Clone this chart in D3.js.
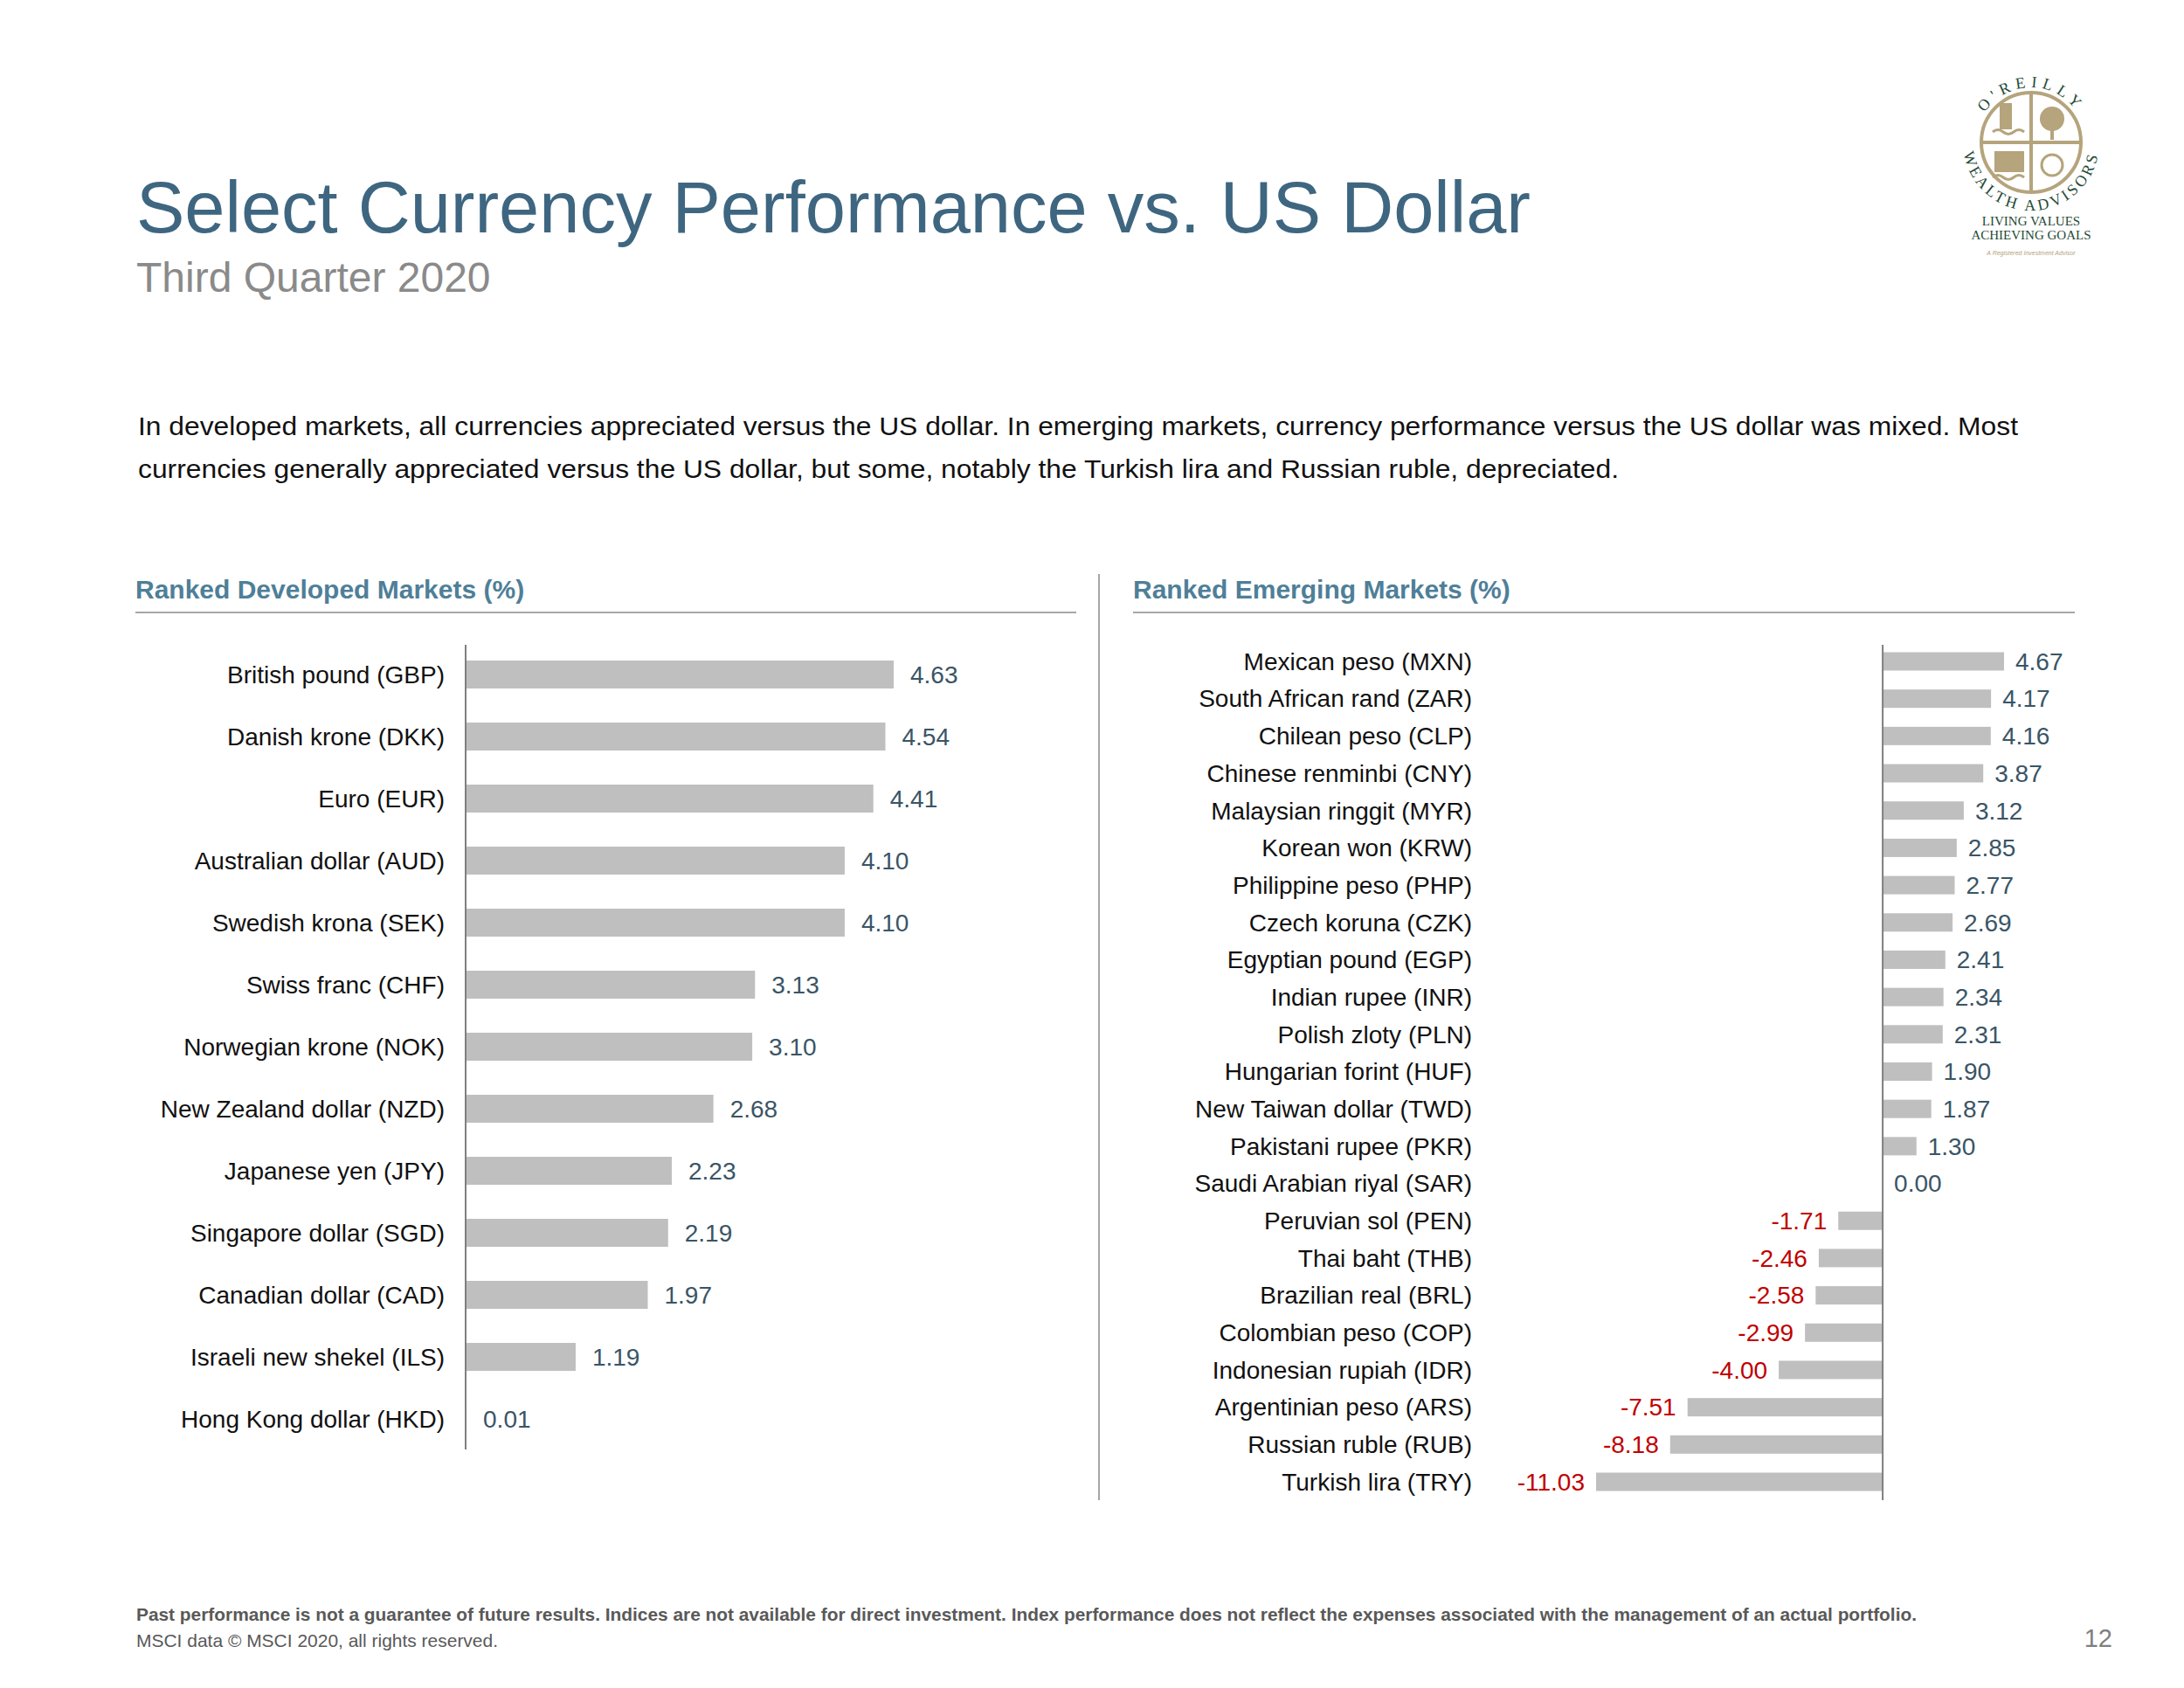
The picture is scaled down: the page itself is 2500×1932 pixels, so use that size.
<!DOCTYPE html>
<html><head><meta charset="utf-8">
<script src="https://cdn.jsdelivr.net/npm/d3@7"></script>
<style>body{margin:0;background:#fff}svg{display:block}</style>
</head><body>
<script>
const devCats=["British pound (GBP)","Danish krone (DKK)","Euro (EUR)","Australian dollar (AUD)","Swedish krona (SEK)","Swiss franc (CHF)","Norwegian krone (NOK)","New Zealand dollar (NZD)","Japanese yen (JPY)","Singapore dollar (SGD)","Canadian dollar (CAD)","Israeli new shekel (ILS)","Hong Kong dollar (HKD)"];
const devVals=[4.63,4.54,4.41,4.10,4.10,3.13,3.10,2.68,2.23,2.19,1.97,1.19,0.01];
const emCats=["Mexican peso (MXN)","South African rand (ZAR)","Chilean peso (CLP)","Chinese renminbi (CNY)","Malaysian ringgit (MYR)","Korean won (KRW)","Philippine peso (PHP)","Czech koruna (CZK)","Egyptian pound (EGP)","Indian rupee (INR)","Polish zloty (PLN)","Hungarian forint (HUF)","New Taiwan dollar (TWD)","Pakistani rupee (PKR)","Saudi Arabian riyal (SAR)","Peruvian sol (PEN)","Thai baht (THB)","Brazilian real (BRL)","Colombian peso (COP)","Indonesian rupiah (IDR)","Argentinian peso (ARS)","Russian ruble (RUB)","Turkish lira (TRY)"];
const emVals=[4.67,4.17,4.16,3.87,3.12,2.85,2.77,2.69,2.41,2.34,2.31,1.90,1.87,1.30,0.00,-1.71,-2.46,-2.58,-2.99,-4.00,-7.51,-8.18,-11.03];

const F="Liberation Sans, Arial, sans-serif";
const svg=d3.select("body").append("svg").attr("width",2500).attr("height",1932).style("font-family",F);
const blue="#3e6680", hdr="#4f7f98", barC="#bfbfbf", valC="#3a5566";

svg.append("text").attr("x",156).attr("y",266).attr("font-size",83).attr("fill",blue).text("Select Currency Performance vs. US Dollar");
svg.append("text").attr("x",156).attr("y",334).attr("font-size",48).attr("fill","#8a8a8a").text("Third Quarter 2020");
svg.append("text").attr("x",158).attr("y",498).attr("font-size",30).attr("fill","#111").attr("textLength",2152).attr("lengthAdjust","spacingAndGlyphs").text("In developed markets, all currencies appreciated versus the US dollar. In emerging markets, currency performance versus the US dollar was mixed. Most");
svg.append("text").attr("x",158).attr("y",547).attr("font-size",30).attr("fill","#111").attr("textLength",1695).attr("lengthAdjust","spacingAndGlyphs").text("currencies generally appreciated versus the US dollar, but some, notably the Turkish lira and Russian ruble, depreciated.");

[[155,1232,"Ranked Developed Markets (%)"],[1297,2375,"Ranked Emerging Markets (%)"]].forEach(([x0,x1,t])=>{
  svg.append("text").attr("x",x0).attr("y",685).attr("font-size",30).attr("font-weight","bold").attr("fill",hdr).text(t);
  svg.append("line").attr("x1",x0).attr("x2",x1).attr("y1",701).attr("y2",701).attr("stroke","#a6a6a6").attr("stroke-width",2);
});
svg.append("line").attr("x1",1258).attr("x2",1258).attr("y1",657).attr("y2",1717).attr("stroke","#a6a6a6").attr("stroke-width",2);

function chart(cats,vals,opt){
  const x=d3.scaleLinear().domain(opt.dom).range(opt.rng);
  const y=d3.scalePoint().domain(cats).range(opt.yr);
  const g=svg.append("g");
  g.selectAll("rect").data(vals).join("rect")
    .attr("x",d=>Math.min(x(0),x(d))).attr("width",d=>Math.abs(x(d)-x(0)))
    .attr("y",(d,i)=>y(cats[i])-opt.bh/2).attr("height",opt.bh).attr("fill",barC);
  g.append("line").attr("x1",x(0)).attr("x2",x(0)).attr("y1",opt.ax[0]).attr("y2",opt.ax[1]).attr("stroke","#7f7f7f").attr("stroke-width",2);
  g.selectAll("text.c").data(cats).join("text").attr("class","c")
    .attr("x",opt.lx).attr("y",d=>y(d)).attr("dy","0.35em").attr("text-anchor","end").attr("font-size",opt.fs).attr("fill","#111").text(d=>d);
  g.selectAll("text.v").data(vals).join("text").attr("class","v")
    .attr("x",d=>d<0?x(d)-opt.gap:x(d)+opt.gap).attr("y",(d,i)=>y(cats[i])).attr("dy","0.35em")
    .attr("text-anchor",d=>d<0?"end":"start").attr("font-size",opt.fs)
    .attr("fill",d=>d<0?"#c00000":valC).text(d=>d.toFixed(2));
}
chart(devCats,devVals,{dom:[0,4.63],rng:[533,1023],yr:[772,1624],bh:32,ax:[738,1659],lx:509,fs:28,gap:19});
chart(emCats,emVals,{dom:[-11.03,4.67],rng:[1827,2294],yr:[757,1696],bh:21,ax:[738,1717],lx:1685,fs:28,gap:13});

svg.append("text").attr("x",156).attr("y",1855).attr("font-size",21).attr("font-weight","bold").attr("fill","#595959")
  .attr("textLength",2038).attr("lengthAdjust","spacingAndGlyphs")
  .text("Past performance is not a guarantee of future results. Indices are not available for direct investment. Index performance does not reflect the expenses associated with the management of an actual portfolio.");
svg.append("text").attr("x",156).attr("y",1885).attr("font-size",21).attr("fill","#595959")
  .attr("textLength",414).attr("lengthAdjust","spacingAndGlyphs").text("MSCI data © MSCI 2020, all rights reserved.");
svg.append("text").attr("x",2418).attr("y",1885).attr("text-anchor","end").attr("font-size",29).attr("fill","#7f7f7f").text("12");

// logo
const lg=svg.append("g"), cx=2325, cy=163, r=57, gold="#b5a47c", grn="#1f4a36";
lg.append("circle").attr("cx",cx).attr("cy",cy).attr("r",r).attr("fill","none").attr("stroke",gold).attr("stroke-width",4);
lg.append("line").attr("x1",cx-r).attr("x2",cx+r).attr("y1",cy).attr("y2",cy).attr("stroke",gold).attr("stroke-width",4);
lg.append("line").attr("x1",cx).attr("x2",cx).attr("y1",cy-r).attr("y2",cy+r).attr("stroke",gold).attr("stroke-width",4);
lg.append("rect").attr("x",cx-36).attr("y",cy-45).attr("width",14).attr("height",30).attr("fill",gold);
lg.append("path").attr("d",`M${cx-44},${cy-12} q6,-5 12,0 t12,0 t12,0`).attr("fill","none").attr("stroke",gold).attr("stroke-width",3);
lg.append("circle").attr("cx",cx+24).attr("cy",cy-27).attr("r",14).attr("fill",gold);
lg.append("rect").attr("x",cx+22).attr("y",cy-15).attr("width",4).attr("height",12).attr("fill",gold);
lg.append("path").attr("d",`M${cx-42},${cy+10} h34 v24 h-34 z`).attr("fill",gold);
lg.append("path").attr("d",`M${cx-44},${cy+40} q6,-5 12,0 t12,0 t12,0`).attr("fill","none").attr("stroke",gold).attr("stroke-width",3);
lg.append("circle").attr("cx",cx+24).attr("cy",cy+26).attr("r",12).attr("fill","none").attr("stroke",gold).attr("stroke-width",3);
const defs=svg.append("defs");
function pt(R,a){return [cx+R*Math.cos(a*Math.PI/180), cy-R*Math.sin(a*Math.PI/180)];}
const R1=63, p1=pt(R1,150), p2=pt(R1,30);
defs.append("path").attr("id","arcTop").attr("d",`M${p1[0]},${p1[1]} A${R1},${R1} 0 0 1 ${p2[0]},${p2[1]}`);
const R2=78, q1=pt(R2,168), q2=pt(R2,12);
defs.append("path").attr("id","arcBot").attr("d",`M${q1[0]},${q1[1]} A${R2},${R2} 0 1 0 ${q2[0]},${q2[1]}`);
lg.append("text").attr("font-family","Liberation Serif, serif").attr("font-size",18).attr("fill",grn).attr("letter-spacing",6)
  .append("textPath").attr("href","#arcTop").attr("startOffset","50%").attr("text-anchor","middle").text("O'REILLY");
lg.append("text").attr("font-family","Liberation Serif, serif").attr("font-size",18).attr("fill",grn).attr("letter-spacing",3.5)
  .append("textPath").attr("href","#arcBot").attr("startOffset","50%").attr("text-anchor","middle").text("WEALTH ADVISORS");
lg.append("text").attr("x",cx).attr("y",258).attr("text-anchor","middle").attr("font-family","Liberation Serif, serif").attr("font-size",15).attr("fill",grn).text("LIVING VALUES");
lg.append("text").attr("x",cx).attr("y",274).attr("text-anchor","middle").attr("font-family","Liberation Serif, serif").attr("font-size",15).attr("fill",grn).text("ACHIEVING GOALS");
lg.append("text").attr("x",cx).attr("y",292).attr("text-anchor","middle").attr("font-style","italic").attr("font-size",7).attr("fill",gold).text("A Registered Investment Advisor");
</script>
</body></html>
